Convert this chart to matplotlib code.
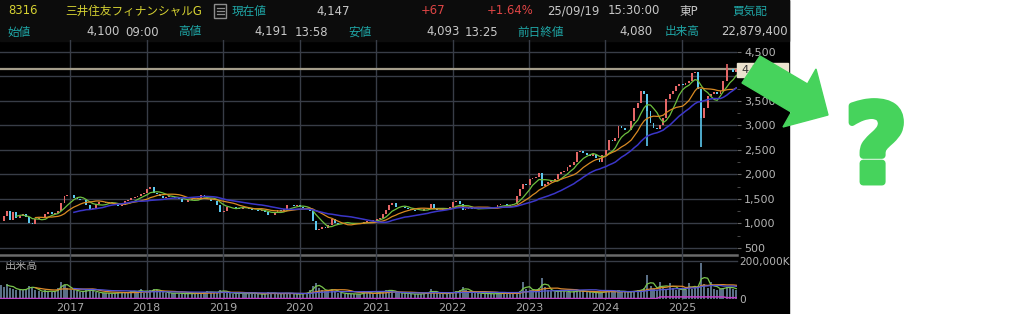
import numpy as np
import pandas as pd
import matplotlib
matplotlib.use("Agg")
import matplotlib.pyplot as plt
import matplotlib.dates as mdates
import matplotlib.patheffects as pe
from matplotlib.patches import Rectangle, Polygon
from matplotlib.ticker import FuncFormatter, MultipleLocator

plt.rcParams['font.family'] = ['DejaVu Sans', 'Noto Sans CJK JP']

# semi-monthly closes (Feb 2016 .. Sep 2025)
closes = [
    1050, 1150, 1260, 1080, 1230, 1120, 1150, 1200, 1140, 1000, 980, 1090,
    1120, 1130, 1200, 1240, 1200, 1210, 1250, 1420, 1560, 1590,              # 2016
    1580, 1520, 1500, 1480, 1470, 1380, 1300, 1310, 1400, 1430, 1440, 1420,
    1440, 1410, 1380, 1350, 1380, 1450, 1480, 1520, 1540, 1560, 1600, 1620,  # 2017
    1700, 1750, 1620, 1600, 1560, 1520, 1540, 1560, 1550, 1520, 1500, 1440,
    1430, 1470, 1500, 1490, 1530, 1580, 1570, 1500, 1460, 1450, 1380, 1240,  # 2018
    1260, 1330, 1340, 1330, 1320, 1300, 1330, 1320, 1290, 1280, 1270, 1250,
    1270, 1240, 1180, 1170, 1230, 1270, 1260, 1300, 1370, 1380, 1360, 1370,  # 2019
    1340, 1310, 1300, 1260, 1050, 870, 880, 920, 900, 960, 1100, 1020,
    990, 980, 1010, 1020, 1010, 1000, 990, 980, 1040, 1060, 1060, 1060,      # 2020
    1100, 1120, 1200, 1280, 1380, 1420, 1330, 1330, 1340, 1320, 1300, 1270,
    1260, 1250, 1260, 1290, 1320, 1390, 1300, 1280, 1270, 1290, 1300, 1340,  # 2021
    1430, 1460, 1400, 1270, 1290, 1320, 1300, 1300, 1310, 1290, 1300, 1320,
    1330, 1340, 1380, 1400, 1390, 1360, 1370, 1400, 1560, 1700, 1800, 1780,  # 2022
    1900, 1930, 1950, 2030, 1760, 1800, 1850, 1870, 1900, 2000, 2060, 2080,
    2150, 2200, 2250, 2450, 2480, 2440, 2400, 2380, 2420, 2330, 2250, 2400,  # 2023
    2500, 2700, 2680, 2750, 2980, 2950, 2900, 2910, 3100, 3350, 3450, 3700,
    3650, 3300, 3050, 2950, 2920, 3000, 3150, 3550, 3650, 3700, 3800, 3850,  # 2024
    3820, 3870, 3900, 4080, 4100, 3750, 3150, 3350, 3600, 3650, 3680, 3650,
    3700, 3900, 4150, 4150, 4100, 4147,                                      # 2025
]
# long wicks
spike_idx = [203, 220, 228]
spike_val = [2580, 2570, 4250]

# volume, thousand shares
volumes = [
    75000, 65000, 80000, 60000, 55000, 50000, 45000, 50000, 55000, 70000, 60000,
    50000, 40000, 35000, 45000, 40000, 38000, 40000, 60000, 90000, 75000, 60000,
    50000, 45000, 40000, 38000, 42000, 45000, 50000, 40000, 35000, 33000, 30000, 32000,
    30000, 28000, 33000, 35000, 30000, 35000, 38000, 40000, 42000, 38000, 55000, 30000,
    40000, 48000, 55000, 45000, 40000, 38000, 33000, 30000, 30000, 32000, 28000, 30000,
    27000, 28000, 30000, 28000, 30000, 33000, 35000, 40000, 35000, 33000, 38000, 48000,
    40000, 35000, 30000, 28000, 32000, 30000, 28000, 27000, 32000, 30000, 28000, 26000,
    25000, 27000, 35000, 30000, 28000, 30000, 28000, 30000, 32000, 28000, 27000, 25000,
    28000, 30000, 32000, 45000, 70000, 85000, 60000, 45000, 40000, 50000, 55000, 40000,
    33000, 30000, 28000, 27000, 28000, 26000, 25000, 26000, 40000, 35000, 30000, 28000,
    35000, 38000, 40000, 45000, 50000, 40000, 35000, 30000, 32000, 30000, 28000, 26000,
    25000, 27000, 28000, 30000, 32000, 55000, 30000, 33000, 28000, 26000, 30000, 35000,
    35000, 40000, 45000, 65000, 50000, 40000, 35000, 32000, 30000, 28000, 30000, 28000,
    27000, 28000, 30000, 28000, 30000, 32000, 30000, 28000, 35000, 40000, 89000, 55000,
    50000, 45000, 48000, 60000, 110000, 65000, 45000, 40000, 38000, 42000, 45000, 40000,
    38000, 35000, 40000, 47000, 42000, 40000, 38000, 35000, 33000, 35000, 30000, 38000,
    45000, 42000, 40000, 38000, 45000, 40000, 36000, 38000, 40000, 42000, 45000, 50000,
    60000, 126000, 70000, 55000, 50000, 91000, 60000, 55000, 84000, 60000, 50000, 45000,
    55000, 50000, 84000, 55000, 60000, 70000, 188000, 80000, 60000, 91000, 55000, 50000,
    55000, 60000, 65000, 58000, 55000, 50000,
]
sub_levels = [2500, 11000, 7000]
sub_runs = [207, 21, 4]

years = list(range(2017, 2026))
price_ticks = list(range(500, 5000, 500))
hidden_tick = 4000   # sits under the price tag in the screenshot

GRID = '#383d47'
UP = '#e56767'
DOWN = '#5cc8ee'
LBL = '#b4b4b4'
TEAL = '#1fa7a7'
NUM = '#c8c8c8'
GREEN = '#46d35c'

dates = pd.date_range("2016-02-01", periods=len(closes), freq="SMS") + pd.Timedelta(days=3)
x = mdates.date2num(dates)
xl = mdates.date2num(pd.Timestamp("2016-01-31"))
xr = mdates.date2num(pd.Timestamp("2025-09-21"))
year_x = mdates.date2num([pd.Timestamp(f"{y}-01-01") for y in years])

fig = plt.figure(figsize=(10.24, 3.14), dpi=100)
fig.patch.set_facecolor('white')

# background / frame in pixel coordinates
bg = fig.add_axes([0, 0, 1, 1])
bg.set_xlim(0, 1024)
bg.set_ylim(314, 0)
bg.axis('off')
bg.add_patch(Rectangle((0, 0), 789, 314, color='black'))
bg.add_patch(Rectangle((0, 0), 789, 41, color='#0c0c0c'))
bg.plot([0, 737], [255, 255], color='#6a6a6a', lw=1.8)
bg.text(5, 266, '出来高', color='#a8a8a8', fontsize=8, va='center')

hs = 8.4
def htext(xp, yp, s, c, ha='left'):
    bg.text(xp, yp, s, color=c, fontsize=hs, ha=ha, va='center')

htext(8, 11, '8316', '#d6d232')
htext(65, 11, '三井住友フィナンシャルG', '#d6d232')
bg.add_patch(Rectangle((214, 3.5), 12, 14, fill=False, ec='#8c8c8c', lw=1))
for yy in (7.5, 10.5, 13.5):
    bg.plot([216.5, 223.5], [yy, yy], color='#8c8c8c', lw=0.9)
htext(232, 11, '現在値', TEAL)
htext(350, 11, '4,147', NUM, 'right')
htext(445, 11, '+67', '#e04545', 'right')
htext(534, 11, '+1.64%', '#e04545', 'right')
htext(547, 11, '25/09/19', NUM)
htext(608, 11, '15:30:00', NUM)
htext(680, 11, '東P', NUM)
htext(732, 11, '買気配', TEAL)

htext(8, 32, '始値', TEAL)
htext(120, 32, '4,100', NUM, 'right')
htext(159, 32, '09:00', NUM, 'right')
htext(178, 32, '高値', TEAL)
htext(288, 32, '4,191', NUM, 'right')
htext(328, 32, '13:58', NUM, 'right')
htext(348, 32, '安値', TEAL)
htext(460, 32, '4,093', NUM, 'right')
htext(498, 32, '13:25', NUM, 'right')
htext(517, 32, '前日終値', TEAL)
htext(653, 32, '4,080', NUM, 'right')
htext(665, 32, '出来高', TEAL)
htext(788, 32, '22,879,400', NUM, 'right')

# vertical year grid through both panels
gx = fig.add_axes([0, 14 / 314, 737 / 1024, 260 / 314])
gx.set_xlim(xl, xr)
gx.axis('off')
for yx in year_x:
    gx.axvline(yx, color=GRID, lw=1)

# price panel
ax = fig.add_axes([0, 59 / 314, 737 / 1024, 213 / 314])
ax.set_facecolor('none')
ax.set_xlim(xl, xr)
ax.set_ylim(357, 4704)
ax.set_yticks(price_ticks)
ax.yaxis.set_minor_locator(MultipleLocator(250))
ax.yaxis.tick_right()
ax.yaxis.set_major_formatter(
    FuncFormatter(lambda v, p: '' if int(v) == hidden_tick else f"{int(v):,}"))
ax.tick_params(axis='y', which='major', length=3, color='#666', pad=2,
               labelcolor=LBL, labelsize=8)
ax.tick_params(axis='y', which='minor', length=2, color='#555')
ax.set_xticks([])
for sp in ax.spines.values():
    sp.set_visible(False)
for p in price_ticks:
    ax.axhline(p, color=GRID, lw=1, zorder=0)
ax.axhline(closes[-1], color='#a49d8a', lw=1.6, zorder=1)

c = np.array(closes, float)
o = np.r_[c[0], c[:-1]]
col = np.where(c >= o, UP, DOWN)
ax.bar(x, np.maximum(np.abs(c - o), 10), bottom=np.minimum(o, c), width=9,
       color=col, linewidth=0, zorder=3)
for i, v in zip(spike_idx, spike_val):
    ref = min(o[i], c[i]) if v < c[i] else max(o[i], c[i])
    ax.vlines(x[i], min(ref, v), max(ref, v), color=col[i], lw=1.2, zorder=3)

s = pd.Series(c)
ax.plot(x, s.rolling(6).mean(), color='#6cbf3e', lw=0.9, zorder=4)
ax.plot(x, s.rolling(12).mean(), color='#d98a22', lw=0.9, zorder=4)
ax.plot(x, s.rolling(24).mean(), color='#3b36c8', lw=1.1, zorder=4)

# volume panel
vx = fig.add_axes([0, 15 / 314, 737 / 1024, 38 / 314])
vx.set_facecolor('none')
vx.set_xlim(xl, xr)
vx.set_ylim(0, 200000)
vol = pd.Series(np.array(volumes, float))
vx.bar(x, vol, width=10, color='#5a6f86', linewidth=0)
vx.plot(x, vol.rolling(3).mean(), color='#79c44c', lw=0.9)
vx.plot(x, vol.rolling(12).mean(), color='#dd8a2a', lw=0.9)
vx.plot(x, vol.rolling(24).mean(), color='#5553d8', lw=0.9)
vx.plot(x, np.repeat(sub_levels, sub_runs), color='#c040c8', lw=1.1)
vx.axhline(200000, color=GRID, lw=1, clip_on=False)
vx.yaxis.tick_right()
vx.set_yticks([0, 200000])
vx.set_yticklabels(['0', '200,000K'])
vx.tick_params(axis='y', length=0, pad=1.5, labelcolor=LBL, labelsize=7.6)
vx.set_xticks(year_x)
vx.set_xticklabels([str(y) for y in years])
vx.tick_params(axis='x', length=0, pad=3, labelcolor='#a8a8a8', labelsize=8)
for sp in vx.spines.values():
    sp.set_visible(False)

# overlay: price tag, arrow and question mark
top = fig.add_axes([0, 0, 1, 1])
top.set_zorder(10)
top.set_xlim(0, 1024)
top.set_ylim(314, 0)
top.axis('off')
top.add_patch(Rectangle((737, 63), 51, 14, color='#ece3cf'))
top.text(741, 70, '4,147', color='#333333', fontsize=8, va='center')
arrow = [(760, 56), (807.5, 84), (816, 69), (828, 115), (783, 127),
         (791.4, 112.2), (742, 83)]
top.add_patch(Polygon(arrow, closed=True, color=GREEN, zorder=5))
top.text(876, 182, '?', color=GREEN, fontsize=78, fontweight='bold',
         family='DejaVu Sans', ha='center', va='baseline',
         path_effects=[pe.withStroke(linewidth=5, foreground=GREEN,
                                     joinstyle='round', capstyle='round')])

fig.savefig('out.png', dpi=100, facecolor=fig.get_facecolor())
